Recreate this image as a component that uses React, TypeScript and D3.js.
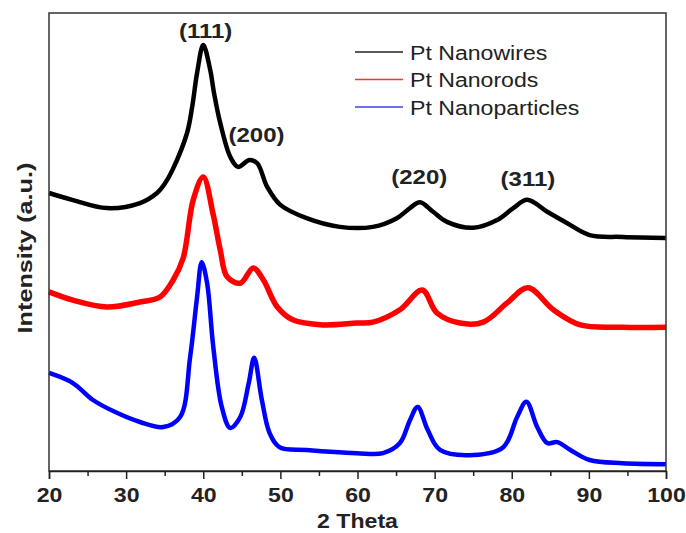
import { useEffect, useRef } from 'react'
import * as d3 from 'd3'

// 2 Theta (deg) vs intensity (a.u., curves offset vertically)
const wiresTheta = [20, 23, 27.5, 31.8, 34, 35, 36, 37.9, 38.6, 39.2, 40, 40.9, 41.4, 42.2, 43.5, 44.5, 46, 47, 48.3, 50, 53.4, 57.7, 62, 65.1, 66.8, 68.1, 69.8, 71.6, 75, 78.1, 80.2, 82, 84.6, 87.2, 90.1, 94.4, 100]
const wiresI = [60.7, 59.2, 57.4, 58.5, 60.7, 62.7, 65.7, 73.8, 79.9, 86.9, 93.0, 87.6, 82.5, 76.0, 68.6, 66.4, 67.9, 67.2, 62.0, 58.1, 55.2, 53.3, 53.3, 55.2, 57.4, 58.7, 56.6, 54.4, 53.1, 54.8, 57.4, 59.2, 56.6, 54.1, 51.5, 51.1, 50.9]

const rodsTheta = [20, 23.1, 27.5, 31.8, 34.4, 36.1, 37.4, 38.7, 40, 41.3, 42.2, 43.1, 44.8, 46.5, 47.8, 49.6, 51.6, 55.5, 59.9, 62, 65.5, 68.4, 70.3, 73.3, 76.3, 79.4, 82.1, 85.4, 88.9, 94.4, 100]
const rodsI = [39.1, 37.3, 35.8, 36.9, 38.0, 41.7, 46.5, 59.2, 64.2, 55.9, 48.3, 42.4, 41.0, 44.3, 41.7, 35.8, 33.0, 31.9, 32.3, 32.5, 35.2, 39.5, 34.5, 32.3, 32.5, 36.7, 40.0, 35.2, 31.9, 31.4, 31.4]

const particlesTheta = [20, 23.1, 25.7, 28.8, 31.8, 34.8, 37, 38.3, 39.2, 39.8, 40.5, 41.3, 42.4, 43.5, 44.8, 45.9, 46.6, 47.6, 48.6, 49.9, 53.4, 59.9, 63.3, 65.5, 66.8, 67.8, 69.1, 70.7, 75, 78.9, 80.7, 81.9, 83.3, 84.6, 85.9, 87.6, 90.1, 94.4, 100]
const particlesI = [21.4, 19.2, 15.5, 12.7, 10.7, 9.6, 11.8, 24.9, 38.0, 45.6, 41.0, 27.1, 14.0, 9.4, 11.8, 19.2, 24.7, 15.5, 8.3, 5.2, 4.6, 3.9, 3.9, 6.1, 11.1, 14.0, 9.0, 4.6, 3.5, 5.2, 11.8, 15.1, 9.6, 6.1, 6.3, 4.6, 2.4, 1.7, 1.5]

const seriesNames = ['Pt Nanowires', 'Pt Nanorods', 'Pt Nanoparticles']
const xTicks = [20, 30, 40, 50, 60, 70, 80, 90, 100]
const xMinorTicks = [25, 35, 45, 55, 65, 75, 85, 95]

// Miller index labels: [label, 2theta, intensity at label baseline]
const peakLabels: [string, number, number][] = [
  ['(111)', 40.3, 94.5],
  ['(200)', 46.9, 71.8],
  ['(220)', 68.0, 62.6],
  ['(311)', 82.1, 62.2],
]

const W = 686
const H = 533
const margin = { left: 49, right: 20, top: 13, bottom: 62 }
const FONT = '"Liberation Sans", Arial, sans-serif'

function App() {
  const svgRef = useRef<SVGSVGElement>(null)

  useEffect(() => {
    const svg = d3.select(svgRef.current)
    svg.selectAll('*').remove()

    const iw = W - margin.left - margin.right
    const ih = H - margin.top - margin.bottom

    const x = d3.scaleLinear().domain([20, 100]).range([0, iw])
    const y = d3.scaleLinear().domain([0, 100]).range([ih, 0])

    const g = svg.append('g').attr('transform', `translate(${margin.left},${margin.top})`)

    // stretched text helper (the original figure's lettering is a bit wide)
    const addText = (parent: any, tx: number, ty: number, txt: string, size: number, bold: boolean, sx: number, anchor = 'middle', rot = 0) => {
      parent.append('text')
        .attr('transform', `translate(${tx},${ty}) rotate(${rot}) scale(${sx},1)`)
        .attr('text-anchor', anchor)
        .style('font-family', FONT)
        .style('font-weight', bold ? 'bold' : 'normal')
        .style('font-size', `${size}px`)
        .attr('fill', '#222')
        .text(txt)
    }

    // curves
    const series = [
      { th: wiresTheta, v: wiresI, color: '#000000', w: 4.5 },
      { th: rodsTheta, v: rodsI, color: '#ff0000', w: 5.5 },
      { th: particlesTheta, v: particlesI, color: '#0000ff', w: 4.5 },
    ]
    const line = d3.line<[number, number]>()
      .x(d => x(d[0]))
      .y(d => y(d[1]))
      .curve(d3.curveCatmullRom.alpha(0.5))

    series.forEach(s => {
      const pts = s.th.map((t, i) => [t, s.v[i]] as [number, number])
      g.append('path')
        .datum(pts)
        .attr('fill', 'none')
        .attr('stroke', s.color)
        .attr('stroke-width', s.w)
        .attr('stroke-linejoin', 'round')
        .attr('d', line)
    })

    // frame
    g.append('rect')
      .attr('x', 0).attr('y', 0)
      .attr('width', iw).attr('height', ih)
      .attr('fill', 'none')
      .attr('stroke', '#333')
      .attr('stroke-width', 1.5)

    // x axis
    const xAxis = d3.axisBottom(x)
      .tickValues(xTicks)
      .tickSize(8)
      .tickPadding(8)
      .tickFormat(d3.format('d'))
    const ax = g.append('g')
      .attr('transform', `translate(0,${ih})`)
      .call(xAxis)
    ax.select('.domain').attr('stroke', '#222').attr('stroke-width', 1.5)
    ax.selectAll('.tick line').attr('stroke', '#222').attr('stroke-width', 1.5)
    ax.selectAll('.tick text')
      .attr('fill', '#222')
      .attr('transform', 'scale(1.1,1)')
      .style('font-family', FONT)
      .style('font-weight', 'bold')
      .style('font-size', '21px')

    const axMinor = g.append('g')
      .attr('transform', `translate(0,${ih})`)
      .call(d3.axisBottom(x).tickValues(xMinorTicks).tickSize(5).tickFormat(() => ''))
    axMinor.select('.domain').remove()
    axMinor.selectAll('.tick line').attr('stroke', '#222').attr('stroke-width', 1.5)

    // peak labels
    peakLabels.forEach(([lab, t, v]) => {
      addText(g, x(t), y(v), lab, 20, true, 1.2)
    })

    // legend
    const legend = svg.append('g').attr('transform', 'translate(355, 52)')
    const legendColors = ['#222222', '#ff3030', '#4040e0']
    seriesNames.forEach((name, i) => {
      const row = legend.append('g').attr('transform', `translate(0, ${i * 27.5})`)
      row.append('line')
        .attr('x1', 0).attr('x2', 48)
        .attr('y1', 0).attr('y2', 0)
        .attr('stroke', legendColors[i])
        .attr('stroke-width', 1.3)
      addText(row, 55, 7.5, name, 21, false, 1.1, 'start')
    })

    // axis titles
    addText(svg, margin.left + iw / 2, 528, '2 Theta', 21, true, 1.1)
    addText(svg, 32, 248, 'Intensity (a.u.)', 21, true, 1.2, 'middle', -90)
  }, [])

  return (
    <svg
      ref={svgRef}
      width={W}
      height={H}
      style={{ position: 'absolute', left: 0, top: 0, background: '#fff' }}
    />
  )
}

export default App
